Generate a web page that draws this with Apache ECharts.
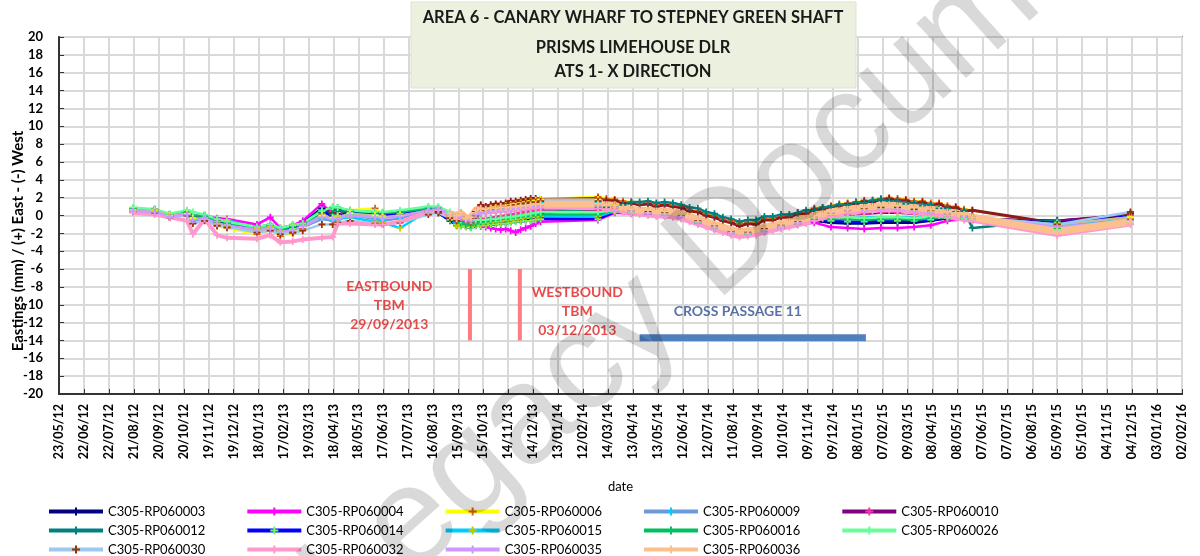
<!DOCTYPE html>
<html>
<head>
<meta charset="utf-8">
<script src="https://cdn.jsdelivr.net/npm/echarts@6/dist/echarts.min.js"></script>
<style>
  html, body { margin: 0; padding: 0; background: #fff; }
  #chart { width: 1200px; height: 556px; }
</style>
</head>
<body>
<div id="chart"></div>
<script>
// dates of the readings (sparse start, dense runs, sparse end)
const earlyDates = ['2012-08-20', '2012-09-15', '2012-10-03', '2012-10-24', '2012-10-31', '2012-11-14',
  '2012-11-29', '2012-12-11', '2013-01-16', '2013-02-01', '2013-02-13', '2013-02-28', '2013-03-12',
  '2013-04-04', '2013-04-17', '2013-04-23', '2013-05-08', '2013-06-07', '2013-06-16', '2013-07-07',
  '2013-08-10', '2013-08-22', '2013-09-05', '2013-09-13']
const tbmDates = ['2013-09-18', '2013-09-24', '2013-09-30', '2013-10-06', '2013-10-12', '2013-10-18',
  '2013-10-24', '2013-10-30', '2013-11-05', '2013-11-11', '2013-11-17', '2013-11-23', '2013-11-29',
  '2013-12-05', '2013-12-11', '2013-12-17', '2013-12-23']
const fineDates = ['2014-03-02', '2014-03-12', '2014-03-22', '2014-04-01', '2014-04-11', '2014-04-21',
  '2014-05-01', '2014-05-11', '2014-05-21', '2014-05-31', '2014-06-10', '2014-06-20', '2014-06-30',
  '2014-07-10', '2014-07-20', '2014-07-30', '2014-08-09', '2014-08-19', '2014-08-29', '2014-09-08',
  '2014-09-18', '2014-09-28', '2014-10-08', '2014-10-18', '2014-10-28', '2014-11-07', '2014-11-17',
  '2014-11-27', '2014-12-07', '2014-12-17', '2014-12-27', '2015-01-06', '2015-01-16', '2015-01-26',
  '2015-02-05', '2015-02-15', '2015-02-25', '2015-03-07', '2015-03-17', '2015-03-27', '2015-04-06',
  '2015-04-16', '2015-04-26', '2015-05-06', '2015-05-16', '2015-05-26']
const coarseDates = ['2014-03-02', '2014-03-22', '2014-04-11', '2014-05-01', '2014-05-21', '2014-06-10',
  '2014-06-30', '2014-07-20', '2014-08-09', '2014-08-29', '2014-09-18', '2014-10-08', '2014-10-28',
  '2014-11-17', '2014-12-07', '2014-12-27', '2015-01-16', '2015-02-05', '2015-02-25', '2015-03-17',
  '2015-04-06', '2015-04-26', '2015-05-16', '2015-05-26']
const lateDates = ['2015-09-05', '2015-12-02']

const seriesNames = ['C305-RP060003', 'C305-RP060004', 'C305-RP060006', 'C305-RP060009', 'C305-RP060010',
  'C305-RP060011', 'C305-RP060012', 'C305-RP060014', 'C305-RP060015', 'C305-RP060016', 'C305-RP060026',
  'C305-RP060029', 'C305-RP060030', 'C305-RP060032', 'C305-RP060035', 'C305-RP060036']
// series read at the 10-day step in 2014/15, the rest at 20 days
const fineSeries = ['C305-RP060006', 'C305-RP060011', 'C305-RP060012', 'C305-RP060032', 'C305-RP060036']

// values (mm): early, tbm run, 2014/15 run, late
const v003 = [0.5, 0.4, -0.1, 0.1, -0.3, -0.1, -0.6, -0.8, -1.3, -1.2, -1.7, -1.4, -0.8, 0.8, -0.1, 0.1, 0.5, 0.2, 0.1, 0.2, 0.4, 0.3, -0.6, -1.1,
  -1.1, -1.2, -1.3, -1.1, -1.0, -1.0, -0.9, -0.9, -0.8, -0.8, -0.7, -0.6, -0.6, -0.5, -0.5, -0.4, -0.3,
  -0.4, 0.4, 0.3, 0.2, 0.1, -0.2, -0.8, -1.4, -2.0, -2.1, -1.7, -1.3, -0.9, -0.6, -0.8, -0.9, -0.9, -0.8, -0.8, -0.8, -0.6, -0.3, -0.3, -0.4,
  -0.6, 0.0]
const v004 = [0.8, 0.6, -0.2, 0.3, -0.1, 0.0, -0.3, -0.4, -1.0, -0.2, -1.4, -1.1, -0.6, 1.3, 0.2, 0.0, 0.3, 0.2, 0.2, 0.3, 0.5, 0.5, -0.3, -0.9,
  -0.9, -1.1, -1.2, -1.1, -1.2, -1.3, -1.4, -1.5, -1.6, -1.5, -1.7, -1.9, -1.6, -1.4, -1.2, -0.9, -0.7,
  -0.5, 0.3, 0.2, 0.1, 0.0, -0.3, -0.9, -1.5, -2.0, -2.1, -1.8, -1.4, -1.0, -0.8, -1.3, -1.4, -1.5, -1.4, -1.4, -1.3, -1.1, -0.6, -0.4, -0.5,
  -1.0, -0.4]
const v006 = [0.7, 0.6, 0.1, 0.3, -0.1, -0.1, -1.2, -1.4, -2.1, -1.6, -2.3, -2.0, -1.5, 0.2, -0.4, -0.1, 0.6, 0.8, 0.1, 0.2, 0.6, 0.6, 0.0, -0.3,
  0.3, -0.3, -0.3, 0.5, 1.1, 1.0, 1.1, 1.2, 1.2, 1.3, 1.4, 1.5, 1.5, 1.6, 1.7, 1.8, 1.8,
  2.1, 1.9, 1.8, 1.6, 1.5, 1.4, 1.4, 1.2, 1.3, 1.1, 1.0, 0.7, 0.5, 0.2, -0.1, -0.4, -0.6, -0.9, -0.8, -0.7, -0.4, -0.3, -0.1, 0.0, 0.3,
  0.4, 0.8, 0.9, 1.1, 1.3, 1.4, 1.5, 1.7, 1.7, 1.9, 2.0, 1.9, 1.8, 1.6, 1.6, 1.4, 1.4, 1.1, 1.0, 0.7, 0.6,
  -1.0, -0.3]
const v009 = [0.5, 0.4, 0.0, 0.2, -0.6, -0.3, -1.0, -1.1, -1.5, -1.3, -1.8, -1.5, -1.3, -0.4, -0.6, -0.5, 0.1, -0.4, -0.6, -0.3, 0.4, 0.5, -0.1, -0.5,
  -0.4, -0.7, -0.8, -0.2, 0.4, 0.4, 0.6, 0.7, 0.8, 0.9, 1.0, 1.1, 1.2, 1.2, 1.3, 1.4, 1.5,
  1.4, 1.0, 0.6, 0.4, 0.3, 0.0, -0.6, -1.2, -1.8, -1.9, -1.5, -1.1, -0.7, -0.2, 0.3, 0.6, 0.8, 0.9, 0.9, 0.7, 0.5, 0.2, -0.1, -0.2,
  -1.1, 0.3]
const v010 = [0.6, 0.5, 0.0, 0.2, -0.2, -0.2, -0.6, -0.9, -1.3, -1.2, -1.5, -1.3, -0.8, 0.5, 0.5, 0.6, 0.4, 0.2, 0.1, 0.3, 0.6, 0.5, 0.0, -0.4,
  -0.7, -0.9, -1.0, -0.7, -0.4, -0.4, -0.3, -0.2, -0.1, 0.0, 0.1, 0.2, 0.3, 0.4, 0.5, 0.6, 0.7,
  0.6, 0.7, 0.4, 0.3, 0.2, -0.1, -0.7, -1.3, -1.9, -2.0, -1.6, -1.2, -0.8, -0.4, -0.1, 0.1, 0.2, 0.3, 0.3, 0.2, 0.1, -0.1, -0.3, -0.4,
  -0.6, 0.1]
const v011 = [0.6, 0.7, -0.1, 0.2, -0.2, -0.3, -0.8, -1.0, -1.5, -1.2, -1.6, -1.2, -0.9, 0.4, 0.3, 0.6, 0.5, 0.3, 0.1, 0.2, 0.5, 0.4, 0.0, -0.2,
  -0.1, -0.5, -0.4, 0.5, 1.2, 1.0, 1.2, 1.3, 1.3, 1.4, 1.6, 1.6, 1.7, 1.8, 1.9, 1.9, 1.8,
  1.9, 1.7, 1.7, 1.4, 1.4, 1.2, 1.3, 1.0, 1.2, 1.0, 0.9, 0.5, 0.4, 0.0, -0.2, -0.6, -0.8, -1.2, -0.9, -1.0, -0.5, -0.5, -0.2, -0.2, 0.2,
  0.2, 0.7, 0.7, 1.0, 1.1, 1.3, 1.3, 1.6, 1.5, 1.8, 1.9, 1.7, 1.7, 1.4, 1.5, 1.2, 1.3, 0.9, 0.9, 0.5, 0.6,
  -0.9, 0.2]
const v012 = [0.7, 0.5, 0.1, 0.3, -0.1, -0.2, -0.7, -0.9, -1.4, -1.1, -1.6, -1.3, -1.0, 0.4, 0.1, 0.6, 0.3, 0.3, 0.2, 0.3, 0.7, 0.7, 0.0, -0.9,
  -1.0, -1.2, -1.2, -1.0, -0.9, -0.8, -0.8, -0.7, -0.6, -0.5, -0.5, -0.4, -0.3, -0.2, -0.1, 0.1, 0.2,
  0.9, 0.9, 1.0, 1.2, 1.5, 1.5, 1.6, 1.4, 1.5, 1.4, 1.2, 0.9, 0.8, 0.4, 0.2, -0.2, -0.4, -0.7, -0.5, -0.5, -0.1, -0.1, 0.1, 0.1, 0.3,
  0.6, 0.6, 0.9, 1.0, 1.2, 1.2, 1.5, 1.4, 1.7, 1.8, 1.6, 1.6, 1.3, 1.4, 1.1, 1.2, 0.8, 0.8, 0.4, 0.5,
  -1.4, -0.5]
const v014 = [0.5, 0.4, -0.1, 0.2, -0.3, -0.2, -0.7, -1.0, -1.5, -1.3, -1.7, -1.5, -0.9, 0.6, -0.2, 0.0, 0.3, 0.1, 0.0, 0.2, 0.4, 0.3, -0.5, -1.0,
  -1.2, -1.3, -1.4, -1.2, -1.1, -1.1, -1.0, -1.0, -0.9, -0.9, -0.8, -0.7, -0.7, -0.6, -0.6, -0.5, -0.4,
  -0.4, 0.4, 0.3, 0.2, 0.1, -0.2, -0.8, -1.4, -2.0, -2.1, -1.7, -1.3, -0.9, -0.5, -0.6, -0.7, -0.7, -0.6, -0.6, -0.6, -0.5, -0.3, -0.3, -0.4,
  -0.8, -0.1]
const v015 = [0.6, 0.5, 0.0, 0.1, -0.4, -0.3, -0.6, -0.5, -1.5, -1.2, -1.6, -1.0, -1.1, 0.0, -0.4, -0.4, -0.2, -0.7, -0.8, -1.4, 0.5, 0.6, -0.2, -1.2,
  -1.0, -1.1, -1.2, -1.0, -0.9, -0.9, -0.8, -0.7, -0.7, -0.6, -0.5, -0.5, -0.4, -0.3, -0.2, -0.2, -0.1,
  -0.1, 0.5, 0.4, 0.3, 0.2, -0.1, -0.7, -1.3, -1.9, -2.0, -1.6, -1.2, -0.8, -0.4, -0.3, -0.3, -0.2, -0.2, -0.2, -0.2, -0.2, -0.2, -0.3, -0.4,
  -1.2, -0.2]
const v016 = [0.8, 0.6, 0.1, 0.5, 0.0, 0.0, -0.5, -0.8, -1.3, -1.0, -1.5, -1.2, -0.9, 0.6, 0.9, 0.9, 0.5, 0.4, 0.3, 0.4, 0.9, 0.9, 0.2, -0.6,
  -0.8, -1.0, -1.1, -0.9, -0.7, -0.7, -0.6, -0.5, -0.4, -0.4, -0.3, -0.2, -0.1, -0.1, 0.0, 0.1, 0.1,
  0.1, 0.6, 0.4, 0.3, 0.2, -0.1, -0.7, -1.3, -1.9, -2.0, -1.6, -1.2, -0.8, -0.4, -0.4, -0.4, -0.5, -0.4, -0.4, -0.5, -0.3, -0.2, -0.4, -0.5,
  -1.5, -0.6]
const v026 = [0.9, 0.7, 0.2, 0.6, 0.4, 0.1, -0.4, -0.7, -1.3, -1.0, -1.4, -1.1, -0.9, 0.5, 1.0, 0.9, 0.6, 0.4, 0.4, 0.6, 1.0, 1.0, 0.4, -0.3,
  -0.5, -0.6, -0.7, -0.5, -0.5, -0.5, -0.4, -0.4, -0.3, -0.2, -0.2, -0.1, 0.0, 0.1, 0.2, 0.3, 0.4,
  0.4, 0.6, 0.4, 0.3, 0.2, -0.1, -0.7, -1.3, -1.9, -2.0, -1.6, -1.2, -0.8, -0.3, -0.2, -0.2, -0.3, -0.2, -0.2, -0.3, -0.1, 0.0, -0.3, -0.4,
  -1.6, -0.9]
const v029 = [0.6, 0.5, 0.0, 0.2, -0.3, -0.4, -1.0, -1.2, -1.8, -1.5, -2.0, -1.7, -1.3, 0.0, -0.3, -0.2, 0.2, 0.0, -0.2, 0.0, 0.5, 0.6, 0.0, -0.3,
  0.0, -0.4, -0.5, 0.2, 0.6, 0.6, 0.8, 0.9, 1.0, 1.1, 1.2, 1.3, 1.4, 1.5, 1.6, 1.7, 1.8,
  1.8, 1.2, 0.6, 0.4, 0.3, 0.0, -0.6, -1.2, -1.8, -1.9, -1.5, -1.1, -0.7, -0.2, 0.3, 0.6, 0.8, 0.9, 0.9, 0.7, 0.5, 0.2, -0.1, -0.2,
  -1.0, -0.2]
const v030 = [0.4, 0.3, -0.2, 0.0, -0.9, -0.6, -1.1, -1.3, -1.9, -1.7, -2.1, -1.9, -1.7, -1.0, -1.0, -0.8, -0.6, -0.9, -1.0, -0.8, 0.1, 0.3, -0.3, -0.6,
  -0.3, -0.6, -0.7, 0.0, 0.5, 0.5, 0.7, 0.8, 0.9, 1.0, 1.1, 1.2, 1.3, 1.4, 1.5, 1.5, 1.6,
  1.6, 1.1, 0.6, 0.4, 0.3, 0.0, -0.6, -1.2, -1.8, -1.9, -1.5, -1.1, -0.7, -0.2, 0.3, 0.6, 0.8, 0.9, 0.9, 0.7, 0.5, 0.2, -0.1, -0.2,
  -1.0, 0.4]
const v032 = [0.3, 0.1, -0.2, -0.6, -2.1, -0.4, -2.2, -2.5, -2.6, -2.2, -3.0, -2.9, -2.7, -2.5, -2.4, -0.9, -0.9, -1.0, -1.0, -0.7, 0.4, 0.6, 0.0, -0.4,
  0.0, -0.4, -0.5, 0.2, 0.4, 0.3, 0.4, 0.4, 0.5, 0.5, 0.6, 0.6, 0.7, 0.7, 0.8, 0.8, 0.9,
  0.8, 0.7, 0.6, 0.4, 0.2, 0.1, 0.0, -0.1, -0.1, -0.2, -0.4, -0.7, -1.0, -1.3, -1.6, -1.9, -2.2, -2.4, -2.3, -2.2, -1.9, -1.7, -1.5, -1.3, -1.1,
  -0.9, -0.6, -0.3, -0.1, 0.0, 0.2, 0.3, 0.4, 0.5, 0.5, 0.6, 0.5, 0.4, 0.3, 0.2, 0.1, 0.0, -0.2, -0.3, -0.5, -0.6,
  -2.2, -1.0]
const v035 = [0.5, 0.4, -0.1, 0.1, -0.5, -0.3, -0.9, -1.1, -1.6, -1.4, -1.8, -1.6, -1.2, -0.2, -0.4, -0.3, 0.0, -0.2, -0.3, -0.1, 0.6, 0.7, 0.2, -0.1,
  -0.2, -0.5, -0.6, 0.1, 0.4, 0.3, 0.5, 0.5, 0.6, 0.7, 0.7, 0.8, 0.9, 0.9, 1.0, 1.0, 1.1,
  1.1, 0.9, 0.5, 0.3, 0.2, -0.1, -0.7, -1.3, -1.9, -2.0, -1.6, -1.2, -0.8, -0.2, 0.3, 0.5, 0.6, 0.7, 0.7, 0.5, 0.4, 0.2, -0.1, -0.2,
  -1.3, -0.6]
const v036 = [null, null, null, null, null, null, null, null, null, null, null, null, null, null, null, null, null, null, null, null, null, null, 0.2, 0.0,
  0.3, -0.3, -0.2, 0.6, 0.8, 0.7, 0.8, 0.8, 0.9, 0.9, 1.0, 1.0, 1.1, 1.1, 1.2, 1.3, 1.3,
  1.3, 1.2, 1.1, 0.9, 0.7, 0.6, 0.6, 0.5, 0.5, 0.4, 0.2, -0.1, -0.4, -0.7, -1.0, -1.3, -1.6, -1.8, -1.7, -1.6, -1.3, -1.1, -0.9, -0.7, -0.5,
  -0.3, 0.0, 0.2, 0.4, 0.5, 0.7, 0.8, 0.9, 1.0, 1.1, 1.2, 1.1, 1.0, 0.9, 0.8, 0.7, 0.6, 0.4, 0.3, 0.1, -0.2,
  -1.8, -0.7]
const seriesValues = [v003, v004, v006, v009, v010, v011, v012, v014, v015, v016, v026, v029, v030, v032, v035, v036]

const lineColors = ['#000080', '#ff00ff', '#ffff00', '#6a9bd8', '#800080', '#8b1a1a', '#008080', '#0000ff',
  '#00ccff', '#00c060', '#66ff99', '#c4bd97', '#9dc8f0', '#ff99cc', '#cc99ff', '#fbc08e']
const markerColors = ['#000080', '#ff00ff', '#e05a1a', '#00ccff', '#ff3399', '#8b1a1a', '#008080', '#66ff66',
  '#c8c800', '#00c060', '#66ff99', '#ffff00', '#993300', '#ff99cc', '#cc99ff', '#fbc08e']
const lineWidths = [2.5, 2.5, 2.5, 2.5, 2.5, 3, 2.5, 2.5, 2.5, 2.5, 2.5, 2.5, 2.5, 4, 2.5, 7]

// annotations
const tbmLineDates = ['2013-09-29', '2013-11-28']
const tbmTop = -6
const tbmBottom = -14
const passageDates = ['2014-04-21', '2015-01-18']
const passageLevel = -13.7
const noteDates = ['2013-06-24', '2014-02-05', '2014-08-17']
const noteValues = [-10.1, -10.7, -10.8]
const noteTexts = ['EASTBOUND\nTBM\n29/09/2013', 'WESTBOUND\nTBM\n03/12/2013', 'CROSS PASSAGE 11']
const noteColors = ['#e01e1e', '#e01e1e', '#2f4f8f']

const titleLines = ['AREA 6 - CANARY WHARF TO STEPNEY GREEN SHAFT', 'PRISMS LIMEHOUSE DLR', 'ATS 1- X DIRECTION']

const FONT = 'Lato, "Open Sans", sans-serif'
const BASE = Date.UTC(2012, 4, 23)
const DAY = 86400000
const PLUS = 'path://M3,0H5V3H8V5H5V8H3V5H0V3H3Z'

function toDay(s) {
  const p = s.split('-')
  return Math.round((Date.UTC(+p[0], +p[1] - 1, +p[2]) - BASE) / DAY)
}
function fmtDay(d) {
  const t = new Date(BASE + d * DAY)
  const dd = String(t.getUTCDate()).padStart(2, '0')
  const mm = String(t.getUTCMonth() + 1).padStart(2, '0')
  return dd + '/' + mm + '/' + String(t.getUTCFullYear()).slice(2)
}
function points(dates, vals) {
  return dates.map((d, i) => vals[i] == null ? null : [toDay(d), vals[i]]).filter(p => p)
}

const fineAll = earlyDates.concat(tbmDates, fineDates, lateDates)
const coarseAll = earlyDates.concat(tbmDates, coarseDates, lateDates)

const dataSeries = seriesNames.map((name, i) => ({
  name: name,
  type: 'line',
  data: points(fineSeries.indexOf(name) >= 0 ? fineAll : coarseAll, seriesValues[i]),
  symbol: PLUS,
  symbolSize: 7,
  showSymbol: true,
  lineStyle: { color: lineColors[i], width: lineWidths[i] },
  itemStyle: { color: markerColors[i] },
  z: 3
}))

const annotationSeries = [
  ...tbmLineDates.map(d => ({
    type: 'line',
    data: [[toDay(d), tbmTop], [toDay(d), tbmBottom]],
    symbol: 'none',
    silent: true,
    lineStyle: { color: '#ff7c80', width: 4 }
  })),
  {
    type: 'line',
    data: passageDates.map(d => [toDay(d), passageLevel]),
    symbol: 'none',
    silent: true,
    lineStyle: { color: '#4f81bd', width: 7 }
  },
  {
    type: 'scatter',
    symbolSize: 0,
    silent: true,
    data: noteDates.map((d, i) => ({
      value: [toDay(d), noteValues[i]],
      label: { formatter: noteTexts[i], color: noteColors[i] }
    })),
    label: {
      show: true,
      position: 'inside',
      fontFamily: FONT,
      fontWeight: 'bold',
      fontSize: 14,
      lineHeight: 19,
      align: 'center'
    }
  }
]

const chart = echarts.init(document.getElementById('chart'))

const option = {
  animation: false,
  backgroundColor: '#fff',
  textStyle: { fontFamily: FONT },
  grid: {
    left: 59, right: 18, top: 37, bottom: 162,
    show: true, borderColor: '#8c8c8c', borderWidth: 2
  },
  legend: [0, 1, 2].map(r => ({
    data: seriesNames.slice(r * 6, r * 6 + 6),
    left: 42,
    top: 500 + r * 19,
    itemWidth: 54,
    itemHeight: 10,
    itemGap: 40,
    selectedMode: false,
    lineStyle: { width: 4 },
    textStyle: { fontFamily: FONT, fontSize: 13, color: '#000' }
  })),
  xAxis: {
    type: 'value',
    min: 0,
    max: 1350,
    interval: 30,
    name: 'date',
    nameLocation: 'middle',
    nameGap: 86,
    nameTextStyle: { fontFamily: FONT, fontSize: 13, color: '#000' },
    axisLine: { show: true, onZero: false, lineStyle: { color: '#333', width: 2 } },
    axisTick: { show: true, inside: true, length: 5, lineStyle: { color: '#333' } },
    axisLabel: {
      rotate: 90, margin: 10, fontFamily: FONT, fontWeight: 'bold', fontSize: 12.5, color: '#000',
      formatter: fmtDay
    },
    splitLine: { show: true, lineStyle: { color: '#d9d9d9', width: 2 } }
  },
  yAxis: {
    type: 'value',
    min: -20,
    max: 20,
    interval: 2,
    axisLine: { show: true, onZero: false, lineStyle: { color: '#333', width: 2 } },
    axisTick: { show: true, inside: true, length: 5, lineStyle: { color: '#333' } },
    axisLabel: { margin: 16, fontFamily: FONT, fontWeight: 'bold', fontSize: 13, color: '#000' },
    splitLine: { show: true, lineStyle: { color: '#d9d9d9', width: 2 } }
  },
  graphic: [
    {
      type: 'rect',
      shape: { x: 411, y: 2, width: 445, height: 86 },
      style: { fill: '#ebf1de', stroke: '#dde3cf', lineWidth: 1 },
      z: 50
    },
    ...titleLines.map((t, i) => ({
      type: 'text',
      x: 633, y: [18, 48, 72][i],
      style: {
        text: t, fill: '#1a1a1a', font: 'bold 16.5px ' + FONT,
        textAlign: 'center', textVerticalAlign: 'middle'
      },
      z: 51
    })),
    {
      type: 'text',
      x: 18, y: 241,
      rotation: Math.PI / 2,
      style: {
        text: 'Eastings (mm) / (+) East - (-) West', fill: '#000', font: 'bold 15px ' + FONT,
        textAlign: 'center', textVerticalAlign: 'middle'
      }
    },
    {
      type: 'text',
      x: 745, y: 225,
      rotation: 42 * Math.PI / 180,
      silent: true,
      style: {
        text: 'Legacy Document', fill: 'rgba(0,0,0,0.15)', font: '140px "Liberation Sans"',
        textAlign: 'center', textVerticalAlign: 'middle'
      },
      z: 100
    }
  ],
  series: dataSeries.concat(annotationSeries)
}

chart.setOption(option)
</script>
</body>
</html>
